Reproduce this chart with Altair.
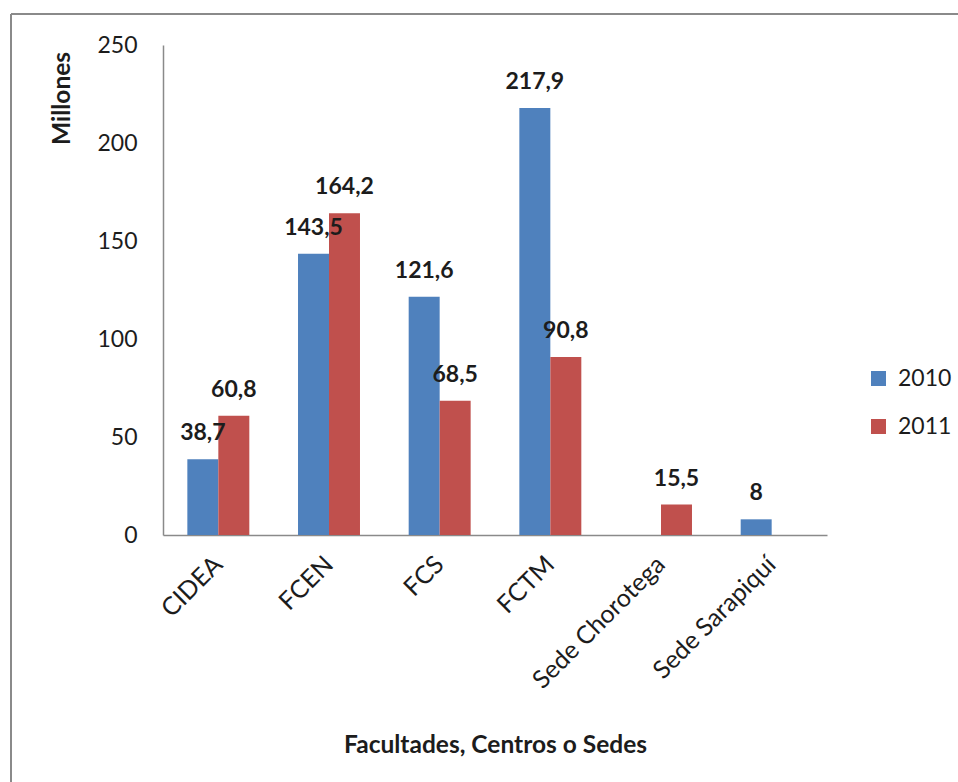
import altair as alt
import pandas as pd

# Facultades, centros o sedes y montos (millones) por año
categorias = ["CIDEA", "FCEN", "FCS", "FCTM", "Sede Chorotega", "Sede Sarapiquí"]
anios = ["2010", "2011"]
montos_2010 = [38.7, 143.5, 121.6, 217.9, None, 8.0]
montos_2011 = [60.8, 164.2, 68.5, 90.8, 15.5, None]
ticks_y = [0, 50, 100, 150, 200, 250]

colores = ["#4F81BD", "#C0504D"]
FUENTE = "Lato"
TEXTO = "#1c1c1c"
GRIS = "#8a8a8a"

filas = []
for anio, serie in zip(anios, [montos_2010, montos_2011]):
    for cat, val in zip(categorias, serie):
        if val is not None:
            filas.append({"categoria": cat, "anio": anio, "monto": val})
df = pd.DataFrame(filas)

W, H = 664, 490

x_enc = alt.X(
    "categoria:N",
    sort=categorias,
    scale=alt.Scale(domain=categorias, paddingInner=0.44, paddingOuter=0.22),
    axis=alt.Axis(
        title="Facultades, Centros o Sedes",
        titleFont=FUENTE, titleFontSize=24.5, titleFontWeight="bold", titleColor=TEXTO,
        titleX=W / 2, titleY=210, titleBaseline="middle", titleAlign="center",
        labelFont=FUENTE, labelFontSize=25, labelColor=TEXTO,
        labelAngle=-45, labelAlign="right", labelBaseline="middle",
        labelPadding=25, ticks=False, tickSize=0,
        domainColor=GRIS, domainWidth=1.5, grid=False,
    ),
)
xoff_enc = alt.XOffset("anio:N", scale=alt.Scale(domain=anios, paddingInner=0, paddingOuter=0))
y_enc = alt.Y(
    "monto:Q",
    scale=alt.Scale(domain=[0, 250], nice=False),
    axis=alt.Axis(
        values=ticks_y,
        title="Millones",
        titleFont=FUENTE, titleFontSize=24.5, titleFontWeight="bold", titleColor=TEXTO,
        titleX=-101, titleY=53, titleAlign="center", titleBaseline="middle", titleAngle=-90,
        labelFont=FUENTE, labelFontSize=23, labelColor=TEXTO,
        labelPadding=26, ticks=False, tickSize=0,
        domainColor=GRIS, domainWidth=1.5, grid=False,
    ),
)

barras = alt.Chart(df).mark_bar().encode(
    x=x_enc,
    xOffset=xoff_enc,
    y=y_enc,
    color=alt.Color(
        "anio:N",
        scale=alt.Scale(domain=anios, range=colores),
        legend=alt.Legend(
            title=None, orient="none", legendX=704, legendY=322,
            symbolType="square", symbolSize=225, symbolStrokeWidth=0,
            labelFont=FUENTE, labelFontSize=23, labelColor=TEXTO,
            labelOffset=8, rowPadding=24, padding=0,
        ),
    ),
)

etiquetas = alt.Chart(df).transform_calculate(
    etiqueta="replace(format(datum.monto, '.1~f'), '.', ',')"
).mark_text(
    font=FUENTE, fontSize=23, fontWeight="bold", color=TEXTO,
    baseline="alphabetic", align="center", dy=-19,
).encode(
    x=alt.X("categoria:N", sort=categorias),
    xOffset=alt.XOffset("anio:N"),
    y=alt.Y("monto:Q"),
    text="etiqueta:N",
)

# Marco exterior del gráfico (solo bordes superior e izquierdo quedan visibles)
marco = alt.Data(values=[{}])
borde_sup = alt.Chart(marco).mark_rule(color=GRIS, strokeWidth=2).encode(
    x=alt.value(-152), x2=alt.value(1000), y=alt.value(-31)
)
borde_izq = alt.Chart(marco).mark_rule(color=GRIS, strokeWidth=2).encode(
    x=alt.value(-152), y=alt.value(-31), y2=alt.value(1000)
)

chart = alt.layer(barras, etiquetas, borde_sup, borde_izq).properties(
    width=W,
    height=H,
    autosize=alt.AutoSizeParams(type="none"),
    padding={"left": 163, "top": 45, "right": 958 - 163 - W, "bottom": 782 - 45 - H},
    background="white",
).configure_view(stroke=None)

chart.save("out.html", embed_options={"renderer": "svg", "actions": False})
